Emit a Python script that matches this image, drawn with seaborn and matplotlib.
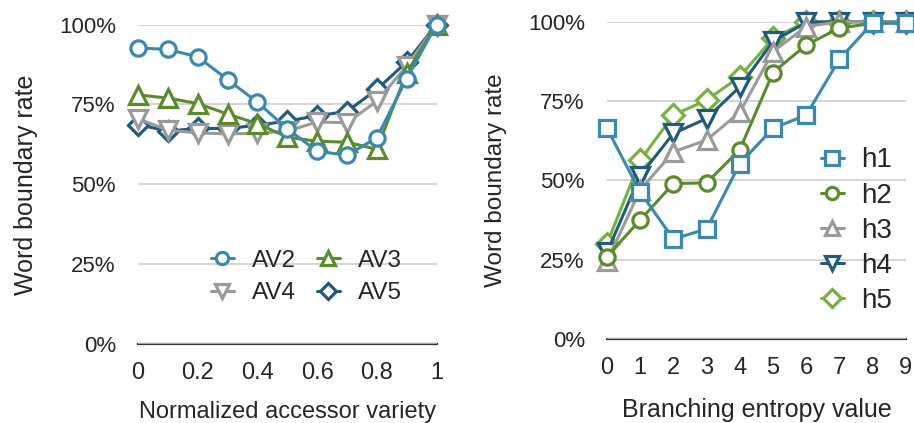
import numpy as np
import pandas as pd
import matplotlib
matplotlib.use("Agg")
import matplotlib.pyplot as plt
from matplotlib.ticker import FuncFormatter
import seaborn as sns

# ---------------- data ----------------
av_x = [0.0, 0.1, 0.2, 0.3, 0.4, 0.5, 0.6, 0.7, 0.8, 0.9, 1.0]
av2 = [92.7, 92.2, 89.9, 82.8, 75.7, 67.4, 60.4, 59.1, 64.6, 83.1, 100.0]
av3 = [78.0, 77.0, 75.3, 72.0, 69.0, 64.8, 63.5, 63.2, 61.0, 85.0, 100.0]
av4 = [70.5, 67.0, 66.1, 65.8, 66.0, 66.7, 69.5, 69.3, 76.0, 87.0, 100.0]
av5 = [68.7, 66.7, 67.5, 67.5, 68.5, 69.8, 71.5, 72.8, 79.7, 88.3, 100.0]

be_x = [0, 1, 2, 3, 4, 5, 6, 7, 8, 9]
h1 = [66.4, 46.3, 31.5, 34.7, 55.3, 66.4, 70.6, 88.2, 99.6, 99.6]
h2 = [26.0, 37.5, 49.0, 49.2, 59.7, 84.0, 92.7, 98.0, 99.5, 99.6]
h3 = [24.5, 47.0, 59.0, 62.7, 71.5, 90.6, 98.5, 100.0, 100.0, 100.0]
h4 = [27.3, 51.5, 64.8, 69.5, 79.5, 93.8, 99.8, 100.0, 100.0, 100.0]
h5 = [30.0, 56.3, 70.6, 75.3, 82.7, 94.8, 100.0, 100.0, 100.0, 100.0]

y_ticks = [0, 25, 50, 75, 100]
av_xticks = [0, 0.2, 0.4, 0.6, 0.8, 1.0]
av_xticklabels = ["0", "0.2", "0.4", "0.6", "0.8", "1"]

# ---------------- style ----------------
sns.set_style("white")
plt.rcParams["font.family"] = ["Liberation Sans", "DejaVu Sans"]

BLUE = "#3a89b1"
GREEN = "#5a8d2a"
GRAY = "#9a9a9a"
DBLUE = "#1e5b7e"
LGREEN = "#77b13f"

fig = plt.figure(figsize=(9.14, 4.23), dpi=100)
axL = fig.add_axes([0.151, 0.186, 0.3266, 0.756])
axR = fig.add_axes([0.6641, 0.1986, 0.327, 0.750])

pct = FuncFormatter(lambda v, p: f"{v:.0f}%")


def style_axis(ax):
    ax.set_ylim(0, 100)
    ax.set_yticks(y_ticks)
    ax.yaxis.set_major_formatter(pct)
    for s in ["left", "right", "top"]:
        ax.spines[s].set_visible(False)
    ax.spines["bottom"].set_color("#333333")
    ax.spines["bottom"].set_linewidth(1.6)
    ax.spines["bottom"].set_zorder(0.5)
    ax.grid(axis="y", color="#c9c9c9", linewidth=1.1)
    ax.grid(axis="x", visible=False)
    ax.set_axisbelow(True)
    ax.tick_params(axis="both", length=0)
    ax.tick_params(axis="y", pad=16, labelsize=16)
    ax.tick_params(axis="x", pad=13, labelsize=17)


# ---------------- left panel ----------------
left_series = [
    ("AV2", av2, BLUE, "o", 11),
    ("AV3", av3, GREEN, "^", 12.5),
    ("AV4", av4, GRAY, "v", 12.5),
    ("AV5", av5, DBLUE, "D", 10.5),
]
for name, vals, col, mk, ms in reversed(left_series):
    df = pd.DataFrame({"x": av_x, "y": vals})
    sns.lineplot(data=df, x="x", y="y", ax=axL, color=col, marker=mk,
                 markersize=ms, markerfacecolor="white", markeredgecolor=col,
                 markeredgewidth=2.3, linewidth=2.2, label=name, clip_on=False)

style_axis(axL)
axL.set_xlim(0, 1)
axL.set_xticks(av_xticks)
axL.set_xticklabels(av_xticklabels)
axL.set_xlabel("Normalized accessor variety", fontsize=17, labelpad=12)
axL.set_ylabel("Word boundary rate", fontsize=18, labelpad=15)

h, l = axL.get_legend_handles_labels()
d = dict(zip(l, h))
order = ["AV2", "AV4", "AV3", "AV5"]
axL.legend([d[k] for k in order], order, ncol=2, frameon=False,
           loc="center", bbox_to_anchor=(0.335, 0.345),
           bbox_transform=fig.transFigure, fontsize=17.5, markerscale=0.8,
           handlelength=0.95, handletextpad=0.75, columnspacing=0.85,
           labelspacing=0.42)

# ---------------- right panel ----------------
right_series = [
    ("h1", h1, BLUE, "s", 12),
    ("h2", h2, GREEN, "o", 11),
    ("h3", h3, GRAY, "^", 12.5),
    ("h4", h4, DBLUE, "v", 12.5),
    ("h5", h5, LGREEN, "D", 11),
]
for name, vals, col, mk, ms in reversed(right_series):
    df = pd.DataFrame({"x": be_x, "y": vals})
    sns.lineplot(data=df, x="x", y="y", ax=axR, color=col, marker=mk,
                 markersize=ms, markerfacecolor="white", markeredgecolor=col,
                 markeredgewidth=2.3, linewidth=2.2, label=name, clip_on=False)

style_axis(axR)
axR.set_xlim(0, 9)
axR.set_xticks(be_x)
axR.set_xlabel("Branching entropy value", fontsize=18, labelpad=14)
axR.set_ylabel("Word boundary rate", fontsize=17.5, labelpad=15)

h, l = axR.get_legend_handles_labels()
d = dict(zip(l, h))
order = ["h1", "h2", "h3", "h4", "h5"]
axR.legend([d[k] for k in order], order, ncol=1, frameon=False,
           loc="center", bbox_to_anchor=(0.9375, 0.4544),
           bbox_transform=fig.transFigure, fontsize=20, markerscale=0.8,
           handlelength=0.8, handletextpad=0.65, labelspacing=0.33)

fig.savefig("out.png", dpi=100)
